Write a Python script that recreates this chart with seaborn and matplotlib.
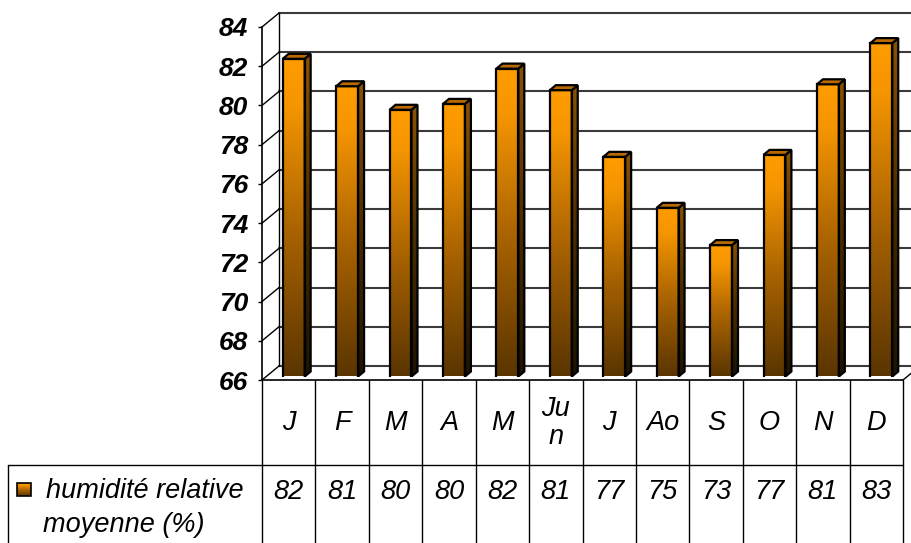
import numpy as np
import pandas as pd
import matplotlib
matplotlib.use("Agg")
import matplotlib.pyplot as plt
import seaborn as sns
from matplotlib.patches import Polygon, Rectangle
from matplotlib.colors import LinearSegmentedColormap

# données
mois = ["J", "F", "M", "A", "M", "Ju\nn", "J", "Ao", "S", "O", "N", "D"]
humidite = [82.2, 80.8, 79.6, 79.9, 81.7, 80.6, 77.2, 74.6, 72.7, 77.3, 80.9, 83.0]
serie = "humidité relative"
serie2 = "moyenne (%)"
yticks = list(range(66, 86, 2))

sns.set_theme(style="white")
plt.rcParams["font.family"] = ["Liberation Sans", "DejaVu Sans"]
plt.rcParams["text.color"] = "black"
plt.rcParams["ytick.color"] = "black"
plt.rcParams["ytick.labelcolor"] = "black"

W, H = 911, 543
fig = plt.figure(figsize=(W / 100, H / 100), dpi=100)
fig.patch.set_facecolor("white")

# géométrie en pixels
x0, x1 = 262, 903
yb, yt = 380, 27
cat = (x1 - x0) / 12
unit = (yb - yt) / 18
dxw, dyw = 17 / cat, 14 / unit        # décalage du mur du fond
dxb, dyb = 6 / cat, 5 / unit          # profondeur des barres

def pos(l, t, r, b):
    return [l / W, 1 - b / H, (r - l) / W, (b - t) / H]

# axe avant (cadre, graduations, mur du fond)
front = fig.add_axes(pos(x0, yt, x1, yb))
front.set_facecolor("none")
front.set_xlim(-0.5, 11.5)
front.set_ylim(66, 84)
front.set_xticks([])
front.set_yticks(yticks)
front.set_yticklabels([str(t) for t in yticks], fontsize=19, fontweight="bold", style="italic",
                      color="black")
front.tick_params(axis="y", left=True, direction="out", length=3, width=1, pad=7, colors="black")
for s in ["top", "right"]:
    front.spines[s].set_visible(False)
for s in ["left", "bottom"]:
    front.spines[s].set_color("black")
    front.spines[s].set_linewidth(1.2)

for v in yticks:
    front.plot([-0.5 + dxw, 12.5], [v + dyw] * 2, color="#3a3a3a", lw=1.5, clip_on=False, zorder=1)
    front.plot([-0.5, -0.5 + dxw], [v, v + dyw], color="black", lw=1.0, clip_on=False, zorder=1)
front.plot([-0.5 + dxw] * 2, [66 + dyw, 84 + dyw], color="black", lw=1.0, clip_on=False)
front.plot([11.5, 11.5 + dxw], [66, 66 + dyw], color="black", lw=1.0, clip_on=False)

# barres (plan avant des barres légèrement en retrait)
ax = fig.add_axes(pos(x0 + 5, yt - 3.5, x1 + 5, yb - 3.5))
df = pd.DataFrame({"pos": np.arange(12), "val": humidite})
sns.barplot(data=df, x="pos", y="val", color="#ff9900", width=0.41, errorbar=None, ax=ax)
ax.set_xlim(-0.5, 11.5)
ax.set_ylim(66, 84)
ax.axis("off")
ax.patch.set_alpha(0)

cm_front = LinearSegmentedColormap.from_list(
    "front", [(0.0, "#5a3500"), (0.45, "#a86200"), (0.85, "#f59500"), (1.0, "#ff9c00")])
cm_side = LinearSegmentedColormap.from_list("side", ["#1e1200", "#4a2c00", "#8a5300"])
grad = np.linspace(0, 1, 256).reshape(-1, 1)

for p in list(ax.patches):
    bx0 = p.get_x()
    bx1 = bx0 + p.get_width()
    h = p.get_height()
    p.set_facecolor("none")
    p.set_edgecolor("black")
    p.set_linewidth(1.6)
    p.set_zorder(4)
    im = ax.imshow(grad, cmap=cm_front, origin="lower", aspect="auto",
                   extent=[bx0, bx1, 66, h], zorder=2)
    im.set_clip_path(p)
    side = Polygon([(bx1, 66), (bx1 + dxb, 66 + dyb), (bx1 + dxb, h + dyb), (bx1, h)],
                   closed=True, facecolor="none", edgecolor="black", lw=1.6, zorder=4)
    ax.add_patch(side)
    im2 = ax.imshow(grad, cmap=cm_side, origin="lower", aspect="auto",
                    extent=[bx1, bx1 + dxb, 66, h + dyb], zorder=2)
    im2.set_clip_path(side)
    top = Polygon([(bx0, h), (bx1, h), (bx1 + dxb, h + dyb), (bx0 + dxb, h + dyb)],
                  closed=True, facecolor="#b86a00", edgecolor="black", lw=1.6, zorder=4)
    ax.add_patch(top)

ax.set_xlim(-0.5, 11.5)
ax.set_ylim(66, 84)

# tableau de données
tab = fig.add_axes(pos(x0, yb, x1, H))
tab.set_xlim(-0.5, 11.5)
tab.set_ylim(H, yb)
tab.axis("off")
xl = -0.5 + (8 - x0) / cat
for k in range(13):
    tab.plot([-0.5 + k] * 2, [yb, H], color="black", lw=1.0, clip_on=False)
tab.plot([xl, 11.5], [465, 465], color="black", lw=1.0, clip_on=False)
tab.plot([xl, xl], [465, H], color="black", lw=1.0, clip_on=False)

for i, (m, v) in enumerate(zip(mois, humidite)):
    tab.text(i, 423, m, ha="center", va="center", fontsize=19.5, style="italic",
             linespacing=1.15, multialignment="center", color="black")
    tab.text(i, 492, f"{v:.0f}", ha="center", va="center", fontsize=19.5, style="italic",
             color="black")

xt = -0.5 + (46 - x0) / cat
tab.text(xt, 491, serie, ha="left", va="center", fontsize=19.5, style="italic", clip_on=False,
         color="black")
tab.text(xt - 0.06, 525, serie2, ha="left", va="center", fontsize=19.5, style="italic", clip_on=False,
         color="black")
mx0 = -0.5 + (17 - x0) / cat
mx1 = -0.5 + (31 - x0) / cat
im3 = tab.imshow(grad, cmap=cm_front, origin="upper", aspect="auto",
                 extent=[mx0, mx1, 483, 496], zorder=2)
im3.set_clip_on(False)
tab.add_patch(Rectangle((mx0, 483), mx1 - mx0, 13, facecolor="none", edgecolor="black",
                        lw=1.2, clip_on=False, zorder=3))
tab.set_xlim(-0.5, 11.5)
tab.set_ylim(H, yb)

fig.savefig("out.png", dpi=100, facecolor="white")
